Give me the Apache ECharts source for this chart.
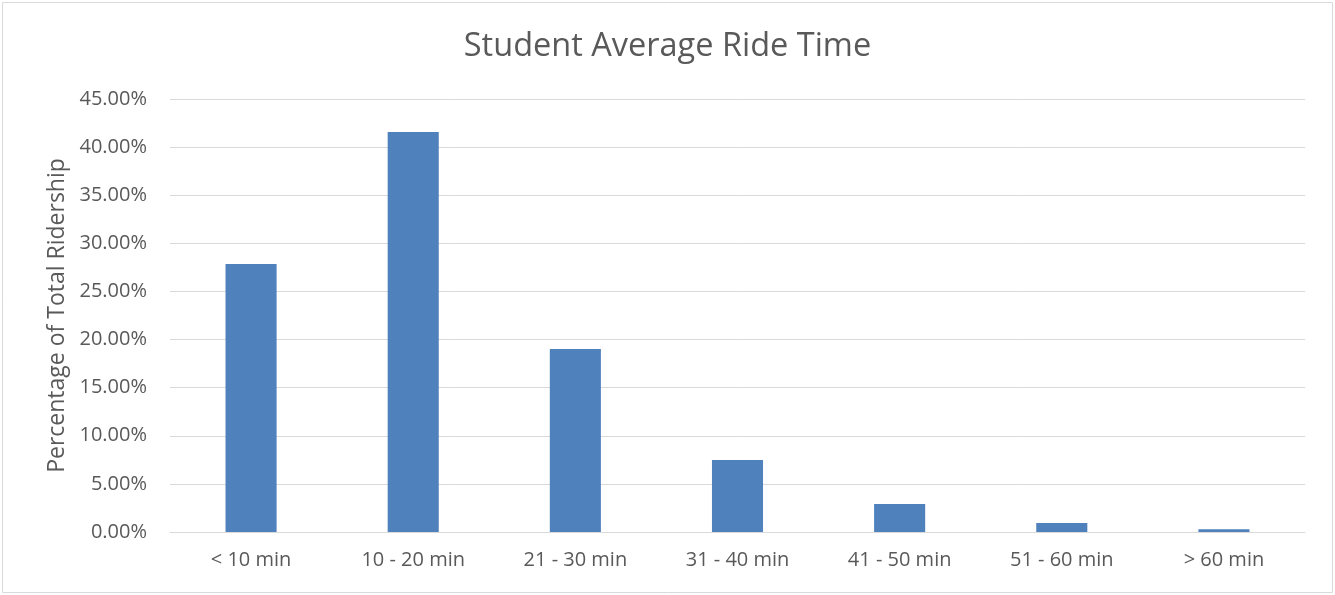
<!DOCTYPE html>
<html><head><meta charset="utf-8">
<script src="https://cdn.jsdelivr.net/npm/echarts@6/dist/echarts.min.js"></script>
<style>html,body{margin:0;padding:0;background:#fff}#c{width:1335px;height:595px}</style>
</head><body><div id="c"></div>
<script>
const categories = ['< 10 min','10 - 20 min','21 - 30 min','31 - 40 min','41 - 50 min','51 - 60 min','> 60 min'];
const values = [27.86, 41.58, 19.02, 7.48, 2.91, 0.94, 0.28];
const titleText = 'Student Average Ride Time';
const yName = 'Percentage of Total Ridership';
const chart = echarts.init(document.getElementById('c'));
const font = 'Open Sans';
chart.setOption({
  animation:false,
  graphic:[{type:'rect',shape:{x:2.5,y:2.5,width:1330,height:590},style:{fill:'none',stroke:'#d9d9d9',lineWidth:1}}],
  title:{text:titleText,left:'center',top:25,textStyle:{fontFamily:font,fontSize:32.5,fontWeight:'normal',color:'#595959'}},
  grid:{left:170,right:30,top:99,bottom:63},
  xAxis:{type:'category',data:categories,axisTick:{show:false},
    axisLine:{lineStyle:{color:'#d9d9d9',width:1}},
    axisLabel:{fontFamily:font,fontSize:20,color:'#595959',margin:18}},
  yAxis:{type:'value',min:0,max:45,interval:5,name:yName,nameLocation:'middle',nameGap:101,
    nameTextStyle:{fontFamily:font,fontSize:23,color:'#595959'},
    axisLine:{show:false},axisTick:{show:false},
    splitLine:{lineStyle:{color:'#d9d9d9',width:1}},
    axisLabel:{fontFamily:font,fontSize:20,color:'#595959',margin:23,formatter:v=>v.toFixed(2)+'%'}},
  series:[{type:'bar',data:values,barWidth:'31.5%',itemStyle:{color:'#4f81bd'}}]
});
</script></body></html>
